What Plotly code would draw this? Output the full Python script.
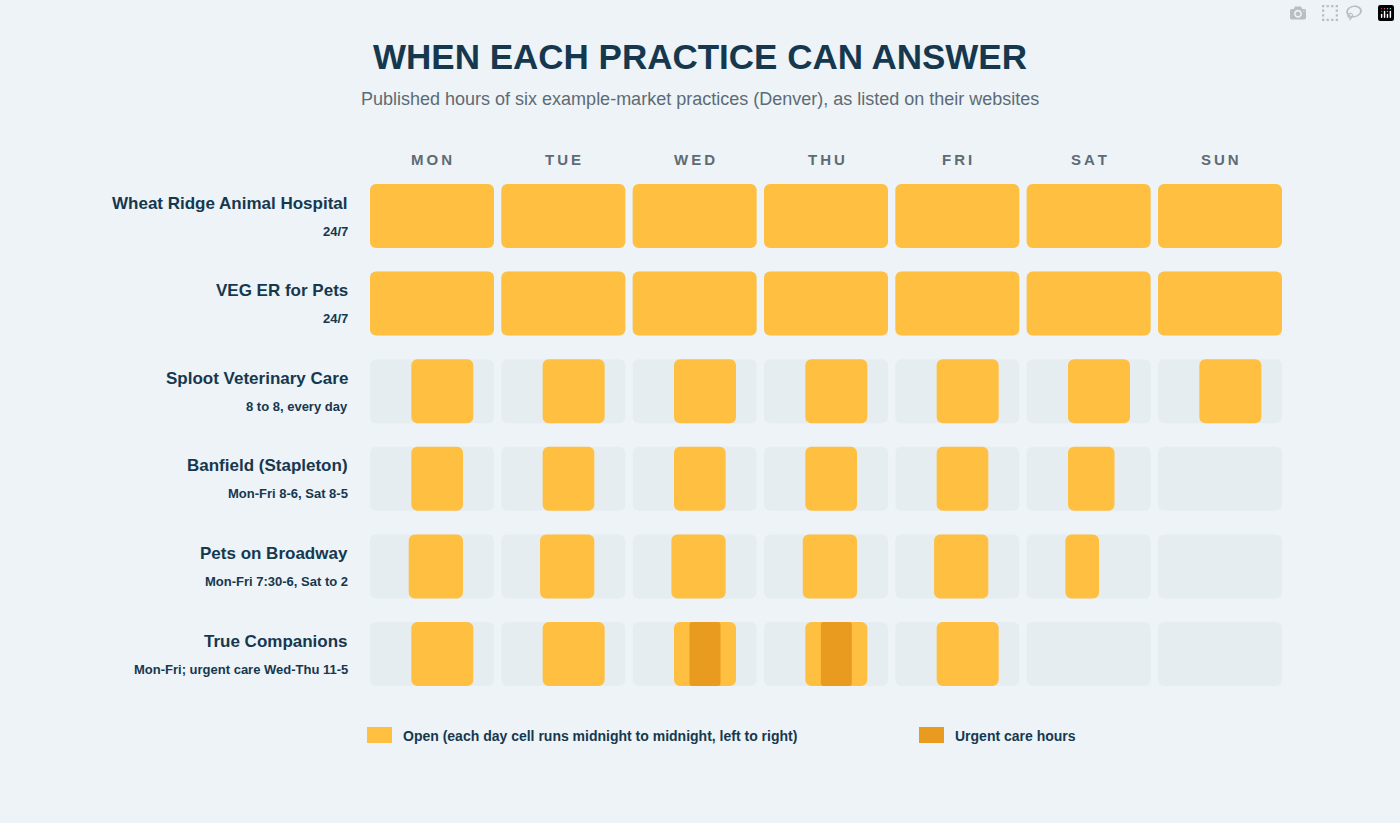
import plotly.graph_objects as go

days = ["MON", "TUE", "WED", "THU", "FRI", "SAT", "SUN"]
practices = ["Wheat Ridge Animal Hospital", "VEG ER for Pets", "Sploot Veterinary Care",
             "Banfield (Stapleton)", "Pets on Broadway", "True Companions"]
notes = ["24/7", "24/7", "8 to 8, every day", "Mon-Fri 8-6, Sat 8-5",
         "Mon-Fri 7:30-6, Sat to 2", "Mon-Fri; urgent care Wed-Thu 11-5"]
# open hours per practice: list of (day_index, open_hour, close_hour)
open_hours = [
    [(d, 0, 24) for d in range(7)],
    [(d, 0, 24) for d in range(7)],
    [(d, 8, 20) for d in range(7)],
    [(d, 8, 18) for d in range(5)] + [(5, 8, 17)],
    [(d, 7.5, 18) for d in range(5)] + [(5, 7.5, 14)],
    [(d, 8, 20) for d in range(5)],
]
urgent_hours = [(5, 2, 11, 17), (5, 3, 11, 17)]  # (practice, day, start, end)

CELL = 0.944  # fraction of day pitch occupied by a cell
ROWH = 0.731
OPEN_C = "#ffbf40"
URG_C = "#e89b1f"
BG_C = "#e6edf0"
TXT = "#16384f"
GREY = "#5d6b75"
FONT = "Liberation Sans"

fig = go.Figure()

bx, by, bb = [], [], []
for r in range(len(practices)):
    for d in range(7):
        bx.append(CELL); by.append(r); bb.append(d)
fig.add_trace(go.Bar(orientation="h", x=bx, y=by, base=bb, width=ROWH,
                     marker=dict(color=BG_C, cornerradius=6, line_width=0), hoverinfo="skip"))

ox, oy, ob = [], [], []
for r, lst in enumerate(open_hours):
    for d, s, e in lst:
        ox.append((e - s) / 24 * CELL); oy.append(r); ob.append(d + s / 24 * CELL)
fig.add_trace(go.Bar(orientation="h", x=ox, y=oy, base=ob, width=ROWH,
                     marker=dict(color=OPEN_C, cornerradius=6, line_width=0)))

ux, uy, ub = [], [], []
for r, d, s, e in urgent_hours:
    ux.append((e - s) / 24 * CELL); uy.append(r); ub.append(d + s / 24 * CELL)
fig.add_trace(go.Bar(orientation="h", x=ux, y=uy, base=ub, width=ROWH,
                     marker=dict(color=URG_C, cornerradius=3, line_width=0)))

W, H = 1400, 823
PITCH = 912 / (6 + CELL)
def px(xp): return (xp - 370) / 912
def py(yp): return (686 - yp) / 502
def dx(v): return 370 + v * PITCH           # data x -> pixel
def dy(v): return 184 + (v + ROWH / 2) * 87.6  # data y -> pixel

def A(x, y, text, size, color, xanchor="center"):
    return dict(x=px(x), y=py(y), xref="paper", yref="paper", showarrow=False, text=text,
                xanchor=xanchor, yanchor="middle", font=dict(size=size, color=color, family=FONT))

ann = []
for i, d in enumerate(days):
    ann.append(A(dx(i + CELL / 2), 159, f"<b>{'&#8201;'.join(d)}</b>", 15, GREY))
for r, (p, n) in enumerate(zip(practices, notes)):
    ann.append(A(350, dy(r) - 13, f"<b>{p}</b>", 17, TXT, "right"))
    ann.append(A(350, dy(r) + 15, f"<b>{n}</b>", 13, TXT, "right"))
ann += [
    A(700, 56, "<b>WHEN EACH PRACTICE CAN ANSWER</b>", 35, TXT),
    A(700, 99, "Published hours of six example-market practices (Denver), as listed on their websites", 18, GREY),
    A(401, 736, "<b>Open (each day cell runs midnight to midnight, left to right)</b>", 14, TXT, "left"),
    A(953, 736, "<b>Urgent care hours</b>", 14, TXT, "left"),
]
shapes = [
    dict(type="rect", xref="paper", yref="paper", x0=px(367), x1=px(392), y0=py(743), y1=py(727),
         fillcolor=OPEN_C, line_width=0),
    dict(type="rect", xref="paper", yref="paper", x0=px(919), x1=px(944), y0=py(743), y1=py(727),
         fillcolor=URG_C, line_width=0),
]

fig.update_layout(
    width=W, height=H, barmode="overlay", showlegend=False,
    margin=dict(l=370, r=118, t=184, b=137),
    paper_bgcolor="#edf3f6", plot_bgcolor="rgba(0,0,0,0)",
    xaxis=dict(range=[0, 6 + CELL], visible=False, fixedrange=True),
    yaxis=dict(range=[5 + ROWH / 2, -ROWH / 2], visible=False, fixedrange=True),
    annotations=ann, shapes=shapes,
)
fig.write_html("out.html", post_script="document.body.style.margin='0';document.body.style.background='#edf3f6';")
